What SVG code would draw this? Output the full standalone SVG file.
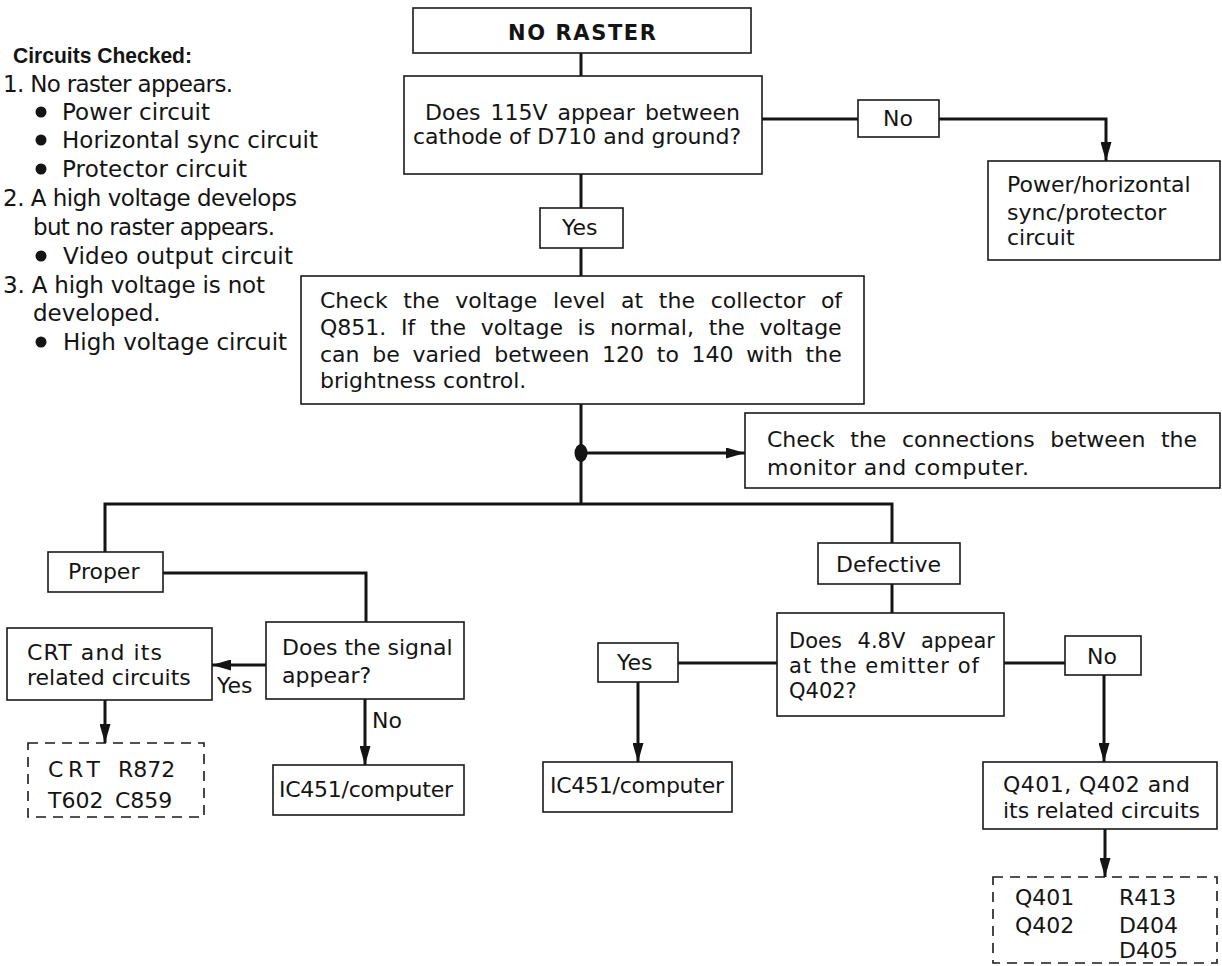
<svg xmlns="http://www.w3.org/2000/svg" width="1222" height="966" viewBox="0 0 1222 966">
<style>
  .box { fill: #fff; stroke: #1a1a1a; stroke-width: 1.6; }
  .dash { fill: none; stroke: #1a1a1a; stroke-width: 1.6; stroke-dasharray: 10 7; }
  .t { font-family: "DejaVu Sans", Verdana, sans-serif; font-size: 22px; fill: #141414; }
  .l { font-size: 23px; }
  .s { font-size: 21px; }
  .b { font-weight: bold; }
  .ln { fill: none; stroke: #141414; stroke-width: 3; }
</style>
<defs>
  <marker id="ah" markerUnits="userSpaceOnUse" markerWidth="19" markerHeight="11" refX="19" refY="5.5" orient="auto">
    <path d="M0,0 L19,5.5 L0,11 z" fill="#141414"/>
  </marker>
</defs>
<rect width="1222" height="966" fill="#fff"/>

<g id="legend">
  <text class="t b" x="13" y="63" style="font-family:'Liberation Sans',Arial,sans-serif;font-size:21.5px" textLength="179" lengthAdjust="spacingAndGlyphs">Circuits Checked:</text>
  <text class="t l" x="3" y="92" textLength="230" lengthAdjust="spacing">1. No raster appears.</text>
  <circle cx="41" cy="112" r="5.5" fill="#141414"/>
  <text class="t l" x="62" y="120" textLength="148" lengthAdjust="spacing">Power circuit</text>
  <circle cx="41" cy="140" r="5.5" fill="#141414"/>
  <text class="t l" x="62" y="148" textLength="256" lengthAdjust="spacing">Horizontal sync circuit</text>
  <circle cx="41" cy="169" r="5.5" fill="#141414"/>
  <text class="t l" x="62" y="177" textLength="185" lengthAdjust="spacing">Protector circuit</text>
  <text class="t l" x="3" y="206" textLength="294" lengthAdjust="spacing">2. A high voltage develops</text>
  <text class="t l" x="33" y="235" textLength="242" lengthAdjust="spacing">but no raster appears.</text>
  <circle cx="41" cy="256" r="5.5" fill="#141414"/>
  <text class="t l" x="63" y="264" textLength="230" lengthAdjust="spacing">Video output circuit</text>
  <text class="t l" x="3" y="293" textLength="262" lengthAdjust="spacing">3. A high voltage is not</text>
  <text class="t l" x="33" y="321">developed.</text>
  <circle cx="41" cy="342" r="5.5" fill="#141414"/>
  <text class="t l" x="63" y="350">High voltage circuit</text>
</g>

<g id="connectors">
  <line class="ln" x1="581" y1="53" x2="581" y2="76"/>
  <line class="ln" x1="762" y1="119" x2="858" y2="119"/>
  <path class="ln" d="M939,119 H1106 V161" marker-end="url(#ah)"/>
  <line class="ln" x1="581" y1="174" x2="581" y2="208"/>
  <line class="ln" x1="581" y1="248" x2="581" y2="276"/>
  <line class="ln" x1="581" y1="404" x2="581" y2="504"/>
  <ellipse cx="581" cy="453" rx="6.5" ry="9" fill="#141414"/>
  <line class="ln" x1="581" y1="453" x2="745" y2="453" marker-end="url(#ah)"/>
  <path class="ln" d="M105,552 V504 H892 V543"/>
  <path class="ln" d="M163,573 H366 V622"/>
  <line class="ln" x1="266" y1="665" x2="212" y2="665" marker-end="url(#ah)"/>
  <line class="ln" x1="105" y1="700" x2="105" y2="743" marker-end="url(#ah)"/>
  <line class="ln" x1="365" y1="699" x2="365" y2="765" marker-end="url(#ah)"/>
  <line class="ln" x1="892" y1="584" x2="892" y2="613"/>
  <line class="ln" x1="777" y1="663" x2="678" y2="663"/>
  <line class="ln" x1="638" y1="682" x2="638" y2="762" marker-end="url(#ah)"/>
  <line class="ln" x1="1004" y1="663" x2="1065" y2="663"/>
  <line class="ln" x1="1104" y1="675" x2="1104" y2="762" marker-end="url(#ah)"/>
  <line class="ln" x1="1105" y1="829" x2="1105" y2="877" marker-end="url(#ah)"/>
</g>

<g id="n-noraster">
  <rect class="box" x="413" y="8" width="338" height="45"/>
  <text class="t b" x="508" y="40" style="font-size:21px" textLength="148" lengthAdjust="spacing">NO RASTER</text>
</g>
<g id="n-q115">
  <rect class="box" x="404" y="76" width="358" height="98"/>
  <text class="t" x="425" y="120" word-spacing="3">Does 115V appear between</text>
  <text class="t" x="413" y="144">cathode of D710 and ground?</text>
</g>
<g id="n-no1">
  <rect class="box" x="858" y="100" width="81" height="37"/>
  <text class="t" x="883" y="126">No</text>
</g>
<g id="n-power">
  <rect class="box" x="988" y="161" width="232" height="99"/>
  <text class="t" x="1007" y="192">Power/horizontal</text>
  <text class="t" x="1007" y="220">sync/protector</text>
  <text class="t" x="1007" y="245">circuit</text>
</g>
<g id="n-yes1">
  <rect class="box" x="540" y="208" width="83" height="40"/>
  <text class="t" x="562" y="235">Yes</text>
</g>
<g id="n-check">
  <rect class="box" x="301" y="276" width="563" height="128"/>
  <text class="t" x="320" y="308" word-spacing="8.7">Check the voltage level at the collector of</text>
  <text class="t" x="320" y="335" word-spacing="7.7">Q851. If the voltage is normal, the voltage</text>
  <text class="t" x="320" y="362" word-spacing="5.7">can be varied between 120 to 140 with the</text>
  <text class="t" x="320" y="388">brightness control.</text>
</g>
<g id="n-connections">
  <rect class="box" x="745" y="413" width="475" height="75"/>
  <text class="t" x="767" y="447" word-spacing="8.6">Check the connections between the</text>
  <text class="t" x="767" y="475" textLength="262" lengthAdjust="spacing">monitor and computer.</text>
</g>
<g id="n-proper">
  <rect class="box" x="48" y="552" width="115" height="40"/>
  <text class="t" x="68" y="579">Proper</text>
</g>
<g id="n-signal">
  <rect class="box" x="266" y="622" width="198" height="77"/>
  <text class="t" x="282" y="655">Does the signal</text>
  <text class="t" x="282" y="683">appear?</text>
</g>
<g id="n-crt">
  <rect class="box" x="7" y="628" width="205" height="72"/>
  <text class="t" x="27" y="660" textLength="135" lengthAdjust="spacing">CRT and its</text>
  <text class="t" x="27" y="685">related circuits</text>
</g>
<g id="lbl-yes-signal">
  <text class="t" x="217" y="693">Yes</text>
</g>
<g id="lbl-no-signal">
  <text class="t" x="372" y="728">No</text>
</g>
<g id="n-crt-parts">
  <rect class="dash" x="28" y="743" width="176" height="74"/>
  <text class="t" x="48" y="777" textLength="52" lengthAdjust="spacing">CRT</text>
  <text class="t" x="118" y="777">R872</text>
  <text class="t" x="48" y="808">T602</text>
  <text class="t" x="115" y="808">C859</text>
</g>
<g id="n-ic451-left">
  <rect class="box" x="273" y="765" width="191" height="50"/>
  <text class="t" x="279" y="797" textLength="174" lengthAdjust="spacing">IC451/computer</text>
</g>
<g id="n-defective">
  <rect class="box" x="818" y="543" width="142" height="41"/>
  <text class="t" x="836" y="572">Defective</text>
</g>
<g id="n-q48">
  <rect class="box" x="777" y="613" width="227" height="103"/>
  <text class="t s" x="789" y="648" word-spacing="9">Does 4.8V appear</text>
  <text class="t s" x="789" y="673" textLength="190" lengthAdjust="spacing">at the emitter of</text>
  <text class="t s" x="789" y="698">Q402?</text>
</g>
<g id="n-yes2">
  <rect class="box" x="598" y="643" width="80" height="39"/>
  <text class="t" x="617" y="670">Yes</text>
</g>
<g id="n-no2">
  <rect class="box" x="1065" y="636" width="76" height="39"/>
  <text class="t" x="1087" y="664">No</text>
</g>
<g id="n-ic451-right">
  <rect class="box" x="543" y="762" width="189" height="50"/>
  <text class="t" x="550" y="793" textLength="174" lengthAdjust="spacing">IC451/computer</text>
</g>
<g id="n-q401">
  <rect class="box" x="983" y="762" width="234" height="67"/>
  <text class="t" x="1003" y="792" textLength="187" lengthAdjust="spacing">Q401, Q402 and</text>
  <text class="t" x="1003" y="818">its related circuits</text>
</g>
<g id="n-q401-parts">
  <rect class="dash" x="993" y="877" width="224" height="86"/>
  <text class="t" x="1015" y="905">Q401</text>
  <text class="t" x="1015" y="933">Q402</text>
  <text class="t" x="1119" y="905">R413</text>
  <text class="t" x="1119" y="933">D404</text>
  <text class="t" x="1119" y="958">D405</text>
</g>
</svg>
